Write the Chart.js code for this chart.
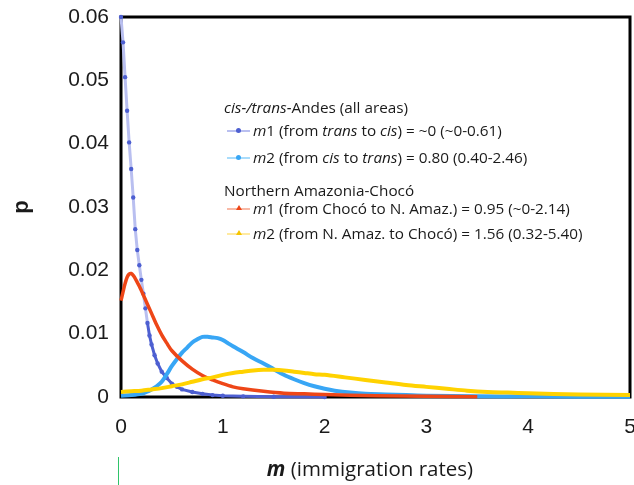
<!DOCTYPE html>
<html>
<head>
<meta charset="utf-8">
<script src="https://cdn.jsdelivr.net/npm/chart.js@4/dist/chart.umd.min.js"></script>
<style>
    body { margin: 0; background: #fff; }
    #wrap { position: relative; width: 634px; height: 485px; }
    #legend { position: absolute; left: 224px; top: 97px; font-family: "Open Sans", sans-serif; font-size: 15.3px; color: #1a1a1a; }
    #legend .row { position: absolute; white-space: nowrap; line-height: 20px; }
    #legend .sym { position: absolute; left: 3px; top: 10px; width: 23px; height: 2px; }
    #legend .dot { position: absolute; left: 9px; top: -2px; width: 5px; height: 5px; border-radius: 50%; }
    #legend .tri { position: absolute; left: 9px; top: -3px; width: 0; height: 0; border-left: 3px solid transparent; border-right: 3px solid transparent; border-bottom: 5px solid; }
    #legend .txt { position: absolute; left: 29px; top: 0; }
    #xtitle { position: absolute; left: 0; width: 740px; top: 454px; text-align: center; font-family: "Open Sans", sans-serif; font-size: 20.5px; color: #1a1a1a; }
</style>
</head>
<body>
<div id="wrap">
    <canvas id="chart" width="634" height="485"></canvas>
    <div id="legend"></div>
    <div id="xtitle"><b><i>m</i></b> (immigration rates)</div>
</div>
<script>
// cis-/trans-Andes m1 (dark blue)
const m1AndesX = [0, 0.02, 0.04, 0.06, 0.08, 0.10, 0.12, 0.14, 0.16, 0.18, 0.20, 0.22, 0.24, 0.26, 0.28, 0.30, 0.33, 0.36, 0.40, 0.45, 0.50, 0.55, 0.60, 0.70, 0.80, 0.90, 1.00, 1.20, 1.50, 2.00];
const m1AndesP = [0.0600, 0.0560, 0.0505, 0.0452, 0.0402, 0.0360, 0.0315, 0.0265, 0.0232, 0.0208, 0.0185, 0.0163, 0.0140, 0.0117, 0.0097, 0.0083, 0.0066, 0.0053, 0.0040, 0.0030, 0.0021, 0.0016, 0.0012, 0.0008, 0.0005, 0.0003, 0.0002, 0.0001, 0.00003, 0];

// cis-/trans-Andes m2 (light blue)
const m2AndesX = [0, 0.10, 0.20, 0.25, 0.30, 0.35, 0.40, 0.45, 0.50, 0.55, 0.60, 0.65, 0.70, 0.75, 0.80, 0.85, 0.90, 0.95, 1.00, 1.05, 1.10, 1.20, 1.30, 1.40, 1.50, 1.60, 1.70, 1.80, 1.90, 2.00, 2.10, 2.25, 2.40, 2.60, 2.80, 3.00, 3.50, 4.00, 4.50, 5.00];
const m2AndesP = [0.0002, 0.0003, 0.0005, 0.0008, 0.0012, 0.0017, 0.0024, 0.0036, 0.0049, 0.0060, 0.0070, 0.0078, 0.0086, 0.0091, 0.0095, 0.0095, 0.0094, 0.0093, 0.0090, 0.0085, 0.0080, 0.0071, 0.0061, 0.0053, 0.0044, 0.0035, 0.0028, 0.0022, 0.0017, 0.0013, 0.0010, 0.0007, 0.0005, 0.0004, 0.0003, 0.0002, 0.0001, 0.0001, 0.00005, 0.00003];

// Northern Amazonia-Choco m1 (red)
const m1NorthX = [0, 0.02, 0.04, 0.06, 0.08, 0.10, 0.12, 0.14, 0.16, 0.18, 0.20, 0.25, 0.30, 0.35, 0.40, 0.45, 0.50, 0.60, 0.70, 0.80, 0.90, 1.00, 1.10, 1.20, 1.40, 1.60, 1.80, 2.00, 2.50, 3.00, 3.50];
const m1NorthP = [0.0152, 0.0166, 0.0179, 0.0189, 0.0194, 0.0195, 0.0192, 0.0187, 0.0181, 0.0175, 0.0168, 0.0150, 0.0132, 0.0114, 0.0098, 0.0085, 0.0073, 0.0057, 0.0044, 0.0034, 0.0027, 0.0021, 0.0016, 0.0013, 0.0009, 0.0006, 0.0005, 0.0004, 0.0002, 0.0001, 0.00003];

// Northern Amazonia-Choco m2 (yellow)
const m2NorthX = [0, 0.10, 0.20, 0.30, 0.40, 0.50, 0.60, 0.70, 0.80, 0.90, 1.00, 1.10, 1.20, 1.30, 1.40, 1.50, 1.60, 1.70, 1.80, 1.90, 2.00, 2.20, 2.40, 2.60, 2.80, 3.00, 3.20, 3.40, 3.60, 3.80, 4.00, 4.50, 5.00];
const m2NorthP = [0.0008, 0.0009, 0.0010, 0.0012, 0.0014, 0.0017, 0.0020, 0.0024, 0.0028, 0.0031, 0.0035, 0.0038, 0.0040, 0.0042, 0.0043, 0.0043, 0.0042, 0.0040, 0.0038, 0.0036, 0.0035, 0.0031, 0.0027, 0.0023, 0.0019, 0.0016, 0.0013, 0.0010, 0.0008, 0.0007, 0.0006, 0.0004, 0.0003];

const xTickLabels = ["0", "1", "2", "3", "4", "5"];
const yTickLabels = ["0", "0.01", "0.02", "0.03", "0.04", "0.05", "0.06"];

const seriesColors = {
    m1Andes: "#4d5fd1",
    m1AndesLine: "#b9bff0",
    m2Andes: "#38a6f5",
    m1North: "#ee4617",
    m2North: "#ffd200",
};

function toPoints(xs, ps) {
    return xs.map((x, i) => ({x: x, y: ps[i]}));
}

// legend entries (drawn as html so the italic parts stay real text)
const legendRows = [
    {top: 0, html: "<i>cis-/trans-</i>Andes (all areas)"},
    {top: 23, html: "<i>m</i>1 (from <i>trans</i> to <i>cis</i>) = ~0 (~0-0.61)", line: "#b9bff0", mark: "dot", color: "#4d5fd1"},
    {top: 50, html: "<i>m</i>2 (from <i>cis</i> to <i>trans</i>) = 0.80 (0.40-2.46)", line: "#a9dcfb", mark: "dot", color: "#38a6f5"},
    {top: 83, html: "Northern Amazonia-Chocó"},
    {top: 101, html: "<i>m</i>1 (from Chocó to N. Amaz.) = 0.95 (~0-2.14)", line: "#f8b9a6", mark: "tri", color: "#ee4617"},
    {top: 126, html: "<i>m</i>2 (from N. Amaz. to Chocó) = 1.56 (0.32-5.40)", line: "#ffeaa0", mark: "tri", color: "#f5c400"},
];

const legendEl = document.getElementById("legend");
legendRows.forEach((r) => {
    const row = document.createElement("div");
    row.className = "row";
    row.style.top = r.top + "px";
    if (r.line) {
        const mark = r.mark === "dot"
            ? '<div class="dot" style="background:' + r.color + '"></div>'
            : '<div class="tri" style="border-bottom-color:' + r.color + '"></div>';
        row.innerHTML = '<div class="sym" style="background:' + r.line + '">' + mark + '</div><span class="txt">' + r.html + "</span>";
    } else {
        row.innerHTML = r.html;
    }
    legendEl.appendChild(row);
});

// black frame round the plot area, under the curves
const framePlugin = {
    id: "frame",
    beforeDatasetsDraw(chart) {
        const a = chart.chartArea;
        const ctx = chart.ctx;
        ctx.save();
        ctx.strokeStyle = "#000";
        ctx.lineWidth = 3;
        ctx.strokeRect(a.left, a.top, a.right - a.left, a.bottom - a.top);
        ctx.restore();
    },
    afterDraw(chart) {
        // small green tick under the origin, as in the original figure
        const x = chart.scales.x.getPixelForValue(0) - 3;
        const ctx = chart.ctx;
        ctx.save();
        ctx.strokeStyle = "#2fc46a";
        ctx.lineWidth = 1;
        ctx.beginPath();
        ctx.moveTo(x + 0.5, 457);
        ctx.lineTo(x + 0.5, 485);
        ctx.stroke();
        ctx.restore();
    },
};

const ctx = document.getElementById("chart").getContext("2d");
new Chart(ctx, {
    type: "scatter",
    data: {
        datasets: [
            {
                label: "m1 cis/trans",
                data: toPoints(m1AndesX, m1AndesP),
                showLine: true,
                borderColor: seriesColors.m1Andes,
                borderWidth: 3,
                pointRadius: 2.2,
                pointBackgroundColor: seriesColors.m1Andes,
                pointBorderWidth: 0,
                segment: {
                    borderColor: (c) => (c.p1.parsed.y > 0.011 ? seriesColors.m1AndesLine : undefined),
                },
                order: 3,
            },
            {
                label: "m2 cis/trans",
                data: toPoints(m2AndesX, m2AndesP),
                showLine: true,
                borderColor: seriesColors.m2Andes,
                borderWidth: 4,
                pointRadius: 0,
                tension: 0.3,
                order: 2,
            },
            {
                label: "m1 north",
                data: toPoints(m1NorthX, m1NorthP),
                showLine: true,
                borderColor: seriesColors.m1North,
                borderWidth: 3.5,
                pointRadius: 0,
                tension: 0.3,
                order: 1,
            },
            {
                label: "m2 north",
                data: toPoints(m2NorthX, m2NorthP),
                showLine: true,
                borderColor: seriesColors.m2North,
                borderWidth: 4,
                pointRadius: 0,
                tension: 0.3,
                order: 0,
            },
        ],
    },
    options: {
        responsive: false,
        animation: false,
        clip: false,
        layout: {padding: {left: 0, top: 17, right: 4, bottom: 0}},
        plugins: {
            legend: {display: false},
            tooltip: {enabled: false},
        },
        scales: {
            x: {
                type: "linear",
                min: 0,
                max: 5,
                grid: {display: false, drawTicks: false},
                border: {display: false},
                ticks: {
                    stepSize: 1,
                    padding: 18,
                    color: "#1a1a1a",
                    font: {family: "'Liberation Sans', Arial, sans-serif", size: 21},
                    maxRotation: 0,
                    callback: (v) => xTickLabels[Math.round(v)],
                },
                afterFit: (s) => {
                    s.height = 88;
                    s.paddingLeft = 0;
                    s.paddingRight = 0;
                },
            },
            y: {
                min: 0,
                max: 0.06,
                grid: {display: false, drawTicks: false},
                border: {display: false},
                ticks: {
                    stepSize: 0.01,
                    padding: 12,
                    color: "#1a1a1a",
                    font: {family: "'Liberation Sans', Arial, sans-serif", size: 21},
                    callback: (v) => yTickLabels[Math.round(v * 100)],
                },
                title: {
                    display: true,
                    text: "p",
                    color: "#1a1a1a",
                    font: {family: "'Liberation Sans', Arial, sans-serif", size: 22, weight: "bold"},
                    padding: {top: 9, bottom: 0},
                },
                afterFit: (s) => {
                    s.width = 121;
                    s.paddingTop = 0;
                    s.paddingBottom = 0;
                },
            },
        },
    },
    plugins: [framePlugin],
});
</script>
</body>
</html>
